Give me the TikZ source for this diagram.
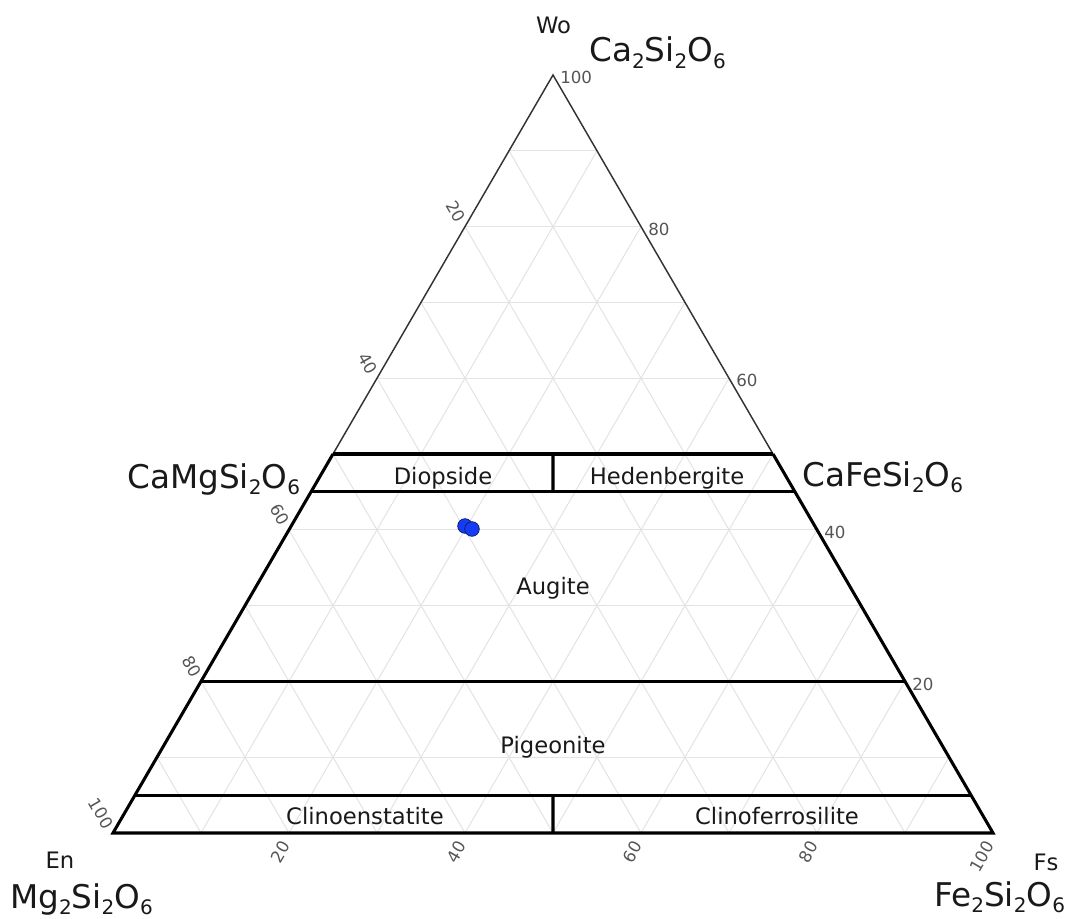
\documentclass[tikz,border=0pt]{standalone}
\usepackage{fontspec}
\setmainfont{DejaVu Sans}
\usetikzlibrary{calc}
\definecolor{gridc}{RGB}{228,228,228}
\definecolor{tickc}{RGB}{85,85,85}
\definecolor{ptfill}{RGB}{20,60,245}
\definecolor{ptedge}{RGB}{15,25,90}
\definecolor{textc}{RGB}{25,25,25}
\newcommand\chsub[1]{\raisebox{-5.2pt}{\fontsize{15}{15}\selectfont #1}}
\begin{document}
\begin{tikzpicture}[x=0.75pt,y=-0.75pt,
  gridline/.style={draw=gridc,line width=0.8pt},
  bound/.style={draw=black,line width=2.3pt,line join=miter},
  thinbound/.style={draw=black!80,line width=1.1pt,line join=miter},
  region/.style={font=\fontsize{17}{20}\selectfont,text=textc,anchor=base,inner sep=0},
  corner/.style={font=\fontsize{17}{20}\selectfont,text=textc,anchor=base,inner sep=0},
  formula/.style={font=\fontsize{24.5}{27}\selectfont,text=textc,anchor=base west,inner sep=0},
  ticklbl/.style={font=\fontsize{12.5}{14}\selectfont,text=tickc,inner sep=0},
  datapt/.style={circle,fill=ptfill,draw=ptedge,line width=0.5pt,minimum size=11pt,inner sep=0}
]
\useasboundingbox (0,0) rectangle (1073,919);
\begin{scope}[shift={(113,833)},x={(660pt,0pt)},y={(330pt,568.5pt)}]
  % grid
  \foreach \k in {1,...,9}{
    \pgfmathsetmacro\w{\k/10}
    \draw[gridline] (0,\w) -- ({1-\w},\w);
    \draw[gridline] (\w,0) -- (\w,{1-\w});
    \draw[gridline] (\w,0) -- (0,\w);
  }
  \coordinate (A) at (0,0);
  \coordinate (B) at (1,0);
  \coordinate (C) at (0,1);
  \coordinate (L50) at (0,0.5);
  \coordinate (R50) at (0.5,0.5);
  \coordinate (L45) at (0,0.45);
  \coordinate (R45) at (0.55,0.45);
  \coordinate (L20) at (0,0.2);
  \coordinate (R20) at (0.8,0.2);
  \coordinate (L05) at (0,0.05);
  \coordinate (R05) at (0.95,0.05);
  \coordinate (M50) at (0.25,0.5);
  \coordinate (M45) at (0.275,0.45);
  \coordinate (M05) at (0.475,0.05);
  \coordinate (M00) at (0.5,0);
  % outline
  \draw[thinbound] (L50) -- (C) -- (R50);
  \draw[bound] (L50) -- (A) -- (B) -- (R50);
  \draw[bound] (L50) -- (R50);
  \draw[bound] (L45) -- (R45);
  \draw[bound] (L20) -- (R20);
  \draw[bound] (L05) -- (R05);
  \draw[bound] (M50) -- (M45);
  \draw[bound] (M05) -- (M00);
  % tick labels
  \foreach \v in {20,40,60,80,100}{
    \node[ticklbl,rotate=-60,anchor=east] (tl\v) at ($(0,{1-\v/100})+(-3pt,4.1pt)$) {\v};
    \node[ticklbl,anchor=west] (tr\v) at ($({1-\v/100},{\v/100})+(5.25pt,-1.9pt)$) {\v};
    \node[ticklbl,rotate=60,anchor=east] (tb\v) at ($({\v/100},0)+(-2.25pt,-7.1pt)$) {\v};
  }
\end{scope}
% data points
\node[datapt] (p1) at (465,526) {};
\node[datapt] (p2) at (472,529) {};
% region labels
\node[region] (diop) at (443,484) {Diopside};
\node[region] (hed) at (667,484) {Hedenbergite};
\node[region] (aug) at (553,594) {Augite};
\node[region] (pig) at (553,753) {Pigeonite};
\node[region] (cen) at (365,824) {Clinoenstatite};
\node[region] (cfs) at (777,824) {Clinoferrosilite};
% corner labels
\node[corner] (wo) at (553.5,34) {Wo};
\node[corner] (en) at (60,868) {En};
\node[corner] (fs) at (1046,870) {Fs};
\node[formula] (wof) at (589,62) {Ca\chsub{2}Si\chsub{2}O\chsub{6}};
\node[formula] (enf) at (10,908) {Mg\chsub{2}Si\chsub{2}O\chsub{6}};
\node[formula] (fsf) at (934,906) {Fe\chsub{2}Si\chsub{2}O\chsub{6}};
\node[formula] (cam) at (127,488) {CaMgSi\chsub{2}O\chsub{6}};
\node[formula] (caf) at (802,486) {CaFeSi\chsub{2}O\chsub{6}};
\end{tikzpicture}
\end{document}
